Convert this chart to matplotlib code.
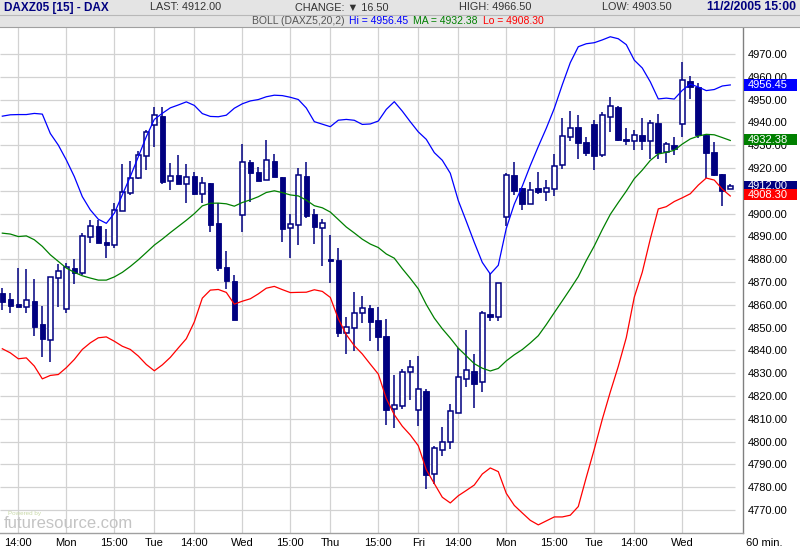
import numpy as np
import matplotlib
matplotlib.use('Agg')
import matplotlib.pyplot as plt
from matplotlib.patches import Rectangle

plt.rcParams['font.family'] = ['Liberation Sans', 'DejaVu Sans']

# ---------------- data (hourly candles, DAX futures) ----------------
opens = [4865.0, 4862.6, 4860.4, 4858.8, 4861.7, 4851.5, 4844.6, 4871.6, 4858.0, 4876.0,
         4874.1, 4889.6, 4894.5, 4887.4, 4886.2, 4901.1, 4908.8, 4915.4, 4925.2, 4938.8,
         4942.7, 4914.3, 4916.8, 4912.8, 4916.3, 4908.6, 4913.3, 4895.8, 4876.5, 4870.4,
         4899.3, 4922.6, 4918.2, 4914.6, 4923.0, 4916.0, 4893.6, 4894.8, 4916.5, 4899.9,
         4893.6, 4880.0, 4879.7, 4847.6, 4849.8, 4856.4, 4858.5, 4853.4, 4846.4, 4814.3,
         4815.5, 4830.5, 4813.7, 4822.3, 4785.8, 4796.5, 4800.0, 4812.6, 4827.5, 4831.0,
         4826.2, 4856.0, 4854.7, 4898.5, 4916.9, 4911.2, 4904.2, 4911.2, 4909.3, 4910.7,
         4921.2, 4933.6, 4937.9, 4931.5, 4939.2, 4925.5, 4942.3, 4946.8, 4932.8, 4931.6,
         4934.5, 4931.6, 4939.6, 4926.8, 4930.1, 4939.2, 4958.2, 4955.7, 4934.5, 4926.9,
         4917.4, 4910.7]
highs = [4867.2, 4865.0, 4876.0, 4875.7, 4871.3, 4859.5, 4872.0, 4877.9, 4878.5, 4880.1,
         4891.3, 4897.2, 4897.2, 4893.2, 4904.5, 4921.7, 4923.1, 4927.5, 4936.6, 4946.5,
         4946.5, 4922.0, 4925.5, 4921.7, 4918.2, 4916.2, 4913.3, 4904.5, 4883.7, 4873.0,
         4930.5, 4923.5, 4920.2, 4932.2, 4926.1, 4916.0, 4899.7, 4920.0, 4922.6, 4902.0,
         4897.5, 4890.7, 4885.1, 4854.6, 4865.4, 4864.0, 4860.0, 4859.0, 4853.7, 4829.3,
         4831.8, 4835.9, 4837.7, 4823.2, 4798.2, 4806.4, 4816.3, 4841.1, 4849.1, 4838.6,
         4857.2, 4873.9, 4869.6, 4917.7, 4922.6, 4911.2, 4913.8, 4918.2, 4914.8, 4926.2,
         4942.1, 4945.0, 4943.3, 4933.4, 4941.1, 4944.7, 4951.3, 4947.2, 4937.7, 4936.7,
         4941.8, 4941.1, 4943.7, 4931.3, 4933.5, 4966.5, 4960.4, 4957.2, 4934.5, 4931.3,
         4917.4, 4913.1]
lows = [4857.7, 4856.3, 4858.8, 4856.3, 4846.4, 4837.3, 4834.7, 4859.2, 4856.3, 4869.1,
        4873.1, 4886.9, 4886.9, 4880.4, 4885.0, 4901.1, 4908.1, 4915.0, 4919.1, 4929.3,
        4913.0, 4910.1, 4912.8, 4904.8, 4908.0, 4904.8, 4892.1, 4874.6, 4866.9, 4853.2,
        4892.1, 4905.2, 4914.4, 4914.6, 4916.2, 4887.6, 4880.5, 4886.1, 4898.2, 4886.6,
        4876.8, 4869.5, 4845.7, 4838.4, 4839.6, 4852.0, 4844.2, 4839.9, 4807.2, 4806.0,
        4814.3, 4818.1, 4806.7, 4779.0, 4781.2, 4793.6, 4796.9, 4812.6, 4823.9, 4814.8,
        4821.7, 4852.8, 4852.8, 4894.4, 4908.0, 4901.7, 4904.2, 4908.5, 4905.3, 4907.5,
        4919.5, 4932.0, 4923.9, 4925.3, 4919.2, 4925.0, 4935.7, 4932.0, 4930.1, 4927.7,
        4927.7, 4924.0, 4923.9, 4922.1, 4925.5, 4933.4, 4950.1, 4933.1, 4915.5, 4916.3,
        4903.5, 4910.7]
closes = [4861.4, 4859.6, 4858.8, 4862.1, 4850.4, 4844.9, 4872.0, 4874.7, 4876.4, 4874.1,
          4890.1, 4894.7, 4886.9, 4886.1, 4901.4, 4909.3, 4915.8, 4925.5, 4935.8, 4943.1,
          4914.0, 4916.5, 4912.8, 4916.2, 4908.5, 4913.3, 4894.8, 4876.1, 4870.3, 4853.2,
          4922.4, 4917.9, 4914.4, 4923.3, 4916.2, 4893.4, 4895.5, 4916.7, 4899.1, 4894.0,
          4895.8, 4879.1, 4847.4, 4850.2, 4856.4, 4858.5, 4852.3, 4845.7, 4813.7, 4816.2,
          4830.5, 4832.7, 4823.1, 4785.3, 4797.2, 4799.9, 4813.6, 4828.4, 4831.5, 4825.3,
          4856.4, 4854.7, 4869.6, 4916.9, 4909.7, 4904.2, 4910.3, 4909.3, 4911.2, 4920.9,
          4933.9, 4937.4, 4930.9, 4926.5, 4925.2, 4943.1, 4947.1, 4932.3, 4931.6, 4934.5,
          4931.6, 4939.6, 4926.5, 4930.4, 4928.2, 4958.6, 4955.4, 4934.5, 4926.5, 4916.7,
          4909.7, 4912.0]

# Bollinger values for the first bars (window reaches before the visible data)
pre_upper = [4942.7, 4943.3, 4943.4, 4943.4, 4943.9, 4943.6, 4935.1, 4930.0, 4923.5, 4916.2,
             4907.4, 4901.6, 4897.5, 4895.7, 4900.1, 4908.2, 4916.2, 4924.9, 4933.7]
pre_ma = [4891.4, 4891.0, 4889.9, 4890.2, 4888.5, 4885.6, 4881.9, 4879.0, 4876.1, 4874.2,
          4872.7, 4871.7, 4870.8, 4870.8, 4872.2, 4874.2, 4876.8, 4879.7, 4882.9]
pre_lower = [4840.7, 4838.9, 4836.3, 4836.7, 4833.1, 4827.5, 4829.0, 4829.4, 4832.4, 4836.0,
             4840.4, 4843.3, 4845.5, 4845.9, 4844.0, 4841.8, 4840.4, 4837.5, 4833.8]

hour_ticks = [2, 8, 14, 19, 24, 30, 36, 41, 47, 52, 57, 63, 69, 74, 79, 85]
hour_labels = ['14:00', 'Mon', '15:00', 'Tue', '14:00', 'Wed', '15:00', 'Thu',
               '15:00', 'Fri', '14:00', 'Mon', '15:00', 'Tue', '14:00', 'Wed']
price_ticks = list(range(4770, 4971, 10))

last_val = 4912.00
boll_hi, boll_ma, boll_lo = 4956.45, 4932.38, 4908.30

# ---------------- figure ----------------
W, H = 800, 550
fig = plt.figure(figsize=(W / 100, H / 100), dpi=100)
fig.patch.set_facecolor('white')

def fx(px):
    return px / W

def fy(py):
    return 1 - py / H

NAVY = '#000080'
GRID = '#d2d2d2'

ax = fig.add_axes([0, fy(533), 743 / W, (533 - 27) / H])
ax.set_xlim(-0.29, 92.59)
ax.set_ylim(4759.9, 4981.8)
ax.set_facecolor('white')

# grid
xr = 91.6
ax.hlines(price_ticks, -0.29, xr, color=GRID, lw=0.9, zorder=1)
ax.vlines(hour_ticks, 4759.9, 4981.8, color=GRID, lw=0.9, zorder=1)

o = np.array(opens)
h = np.array(highs)
l = np.array(lows)
c = np.array(closes)
n = len(c)
x = np.arange(n)

# Bollinger bands (20, 2)
ma = np.empty(n)
upb = np.empty(n)
lob = np.empty(n)
k = len(pre_ma)
ma[:k] = pre_ma
upb[:k] = pre_upper
lob[:k] = pre_lower
for i in range(k, n):
    w = c[i - 19:i + 1]
    m = w.mean()
    s = w.std()
    ma[i] = m
    upb[i] = m + 2 * s
    lob[i] = m - 2 * s

# candles
ax.vlines(x, l, h, color=NAVY, lw=1.1, zorder=2)
bull = c >= o
bot = np.minimum(o, c)
hgt = np.maximum(np.abs(c - o), 0.5)
ax.bar(x[~bull], hgt[~bull], 0.7, bot[~bull], color=NAVY, edgecolor=NAVY, lw=0.6, zorder=3)
ax.bar(x[bull], hgt[bull], 0.62, bot[bull], color='white', edgecolor=NAVY, lw=1.1, zorder=3)

ax.plot(x, upb, color='#0000ff', lw=0.9, zorder=4)
ax.plot(x, ma, color='#008000', lw=0.9, zorder=4)
ax.plot(x, lob, color='#ff0000', lw=0.9, zorder=4)

# axes cosmetics
for side in ['top', 'left']:
    ax.spines[side].set_visible(False)
ax.spines['right'].set_color('#808080')
ax.spines['right'].set_linewidth(1.0)
ax.spines['bottom'].set_color('#a0a0a0')
ax.spines['bottom'].set_linewidth(1.0)

ax.yaxis.tick_right()
ax.set_yticks(price_ticks)
ax.set_yticklabels(['%.2f' % v for v in price_ticks])
ax.tick_params(axis='y', length=0, pad=3.5, labelsize=8, labelcolor='black')
ax.set_xticks(hour_ticks)
ax.set_xticklabels(hour_labels)
ax.tick_params(axis='x', length=0, pad=3.5, labelsize=8, labelcolor='black')

fig.text(fx(746), fy(543), '60 min.', fontsize=8, va='center', ha='left')

# price boxes on right scale
def price_y(p):
    return 54 + (4970 - p) * 2.28

for val, col in [(boll_hi, '#0000ff'), (boll_ma, '#008000'), (last_val, NAVY), (boll_lo, '#ff0000')]:
    yc = price_y(val)
    fig.patches.append(Rectangle((fx(744), fy(yc + 5.7)), 53 / W, 11.4 / H,
                                 transform=fig.transFigure, facecolor=col, edgecolor='none', zorder=5))
    fig.text(fx(748), fy(yc), '%.2f' % val, color='white', fontsize=8, va='center', ha='left', zorder=6)

# header
fig.patches.append(Rectangle((0, fy(27)), 1, 27 / H, transform=fig.transFigure,
                             facecolor='#e4e4e4', edgecolor='none', zorder=1))
fig.lines.append(plt.Line2D([0, 1], [fy(14.5), fy(14.5)], transform=fig.transFigure, color='#b8b8b8', lw=0.8))
fig.lines.append(plt.Line2D([0, 1], [fy(27), fy(27)], transform=fig.transFigure, color='#a0a0a0', lw=0.8))

fig.text(fx(4), fy(7.5), 'DAXZ05 [15] - DAX', fontsize=8.5, fontweight='bold', color=NAVY, va='center', zorder=6)
fig.text(fx(150), fy(7.5), 'LAST: 4912.00', fontsize=7.8, color='#333333', va='center', zorder=6)
fig.text(fx(295), fy(7.5), 'CHANGE: \u25bc 16.50', fontsize=7.8, color='#333333', va='center', zorder=6)
fig.text(fx(459), fy(7.5), 'HIGH: 4966.50', fontsize=7.8, color='#333333', va='center', zorder=6)
fig.text(fx(602), fy(7.5), 'LOW: 4903.50', fontsize=7.8, color='#333333', va='center', zorder=6)
fig.text(fx(796), fy(7.5), '11/2/2005 15:00', fontsize=8.8, fontweight='bold', color=NAVY,
         va='center', ha='right', zorder=6)

fig.text(fx(252), fy(21), 'BOLL (DAXZ5,20,2)', fontsize=7.5, color='#555555', va='center', zorder=6)
fig.text(fx(349), fy(21), 'Hi = %.2f' % boll_hi, fontsize=7.5, color='#0000ff', va='center', zorder=6)
fig.text(fx(413), fy(21), 'MA = %.2f' % boll_ma, fontsize=7.5, color='#008000', va='center', zorder=6)
fig.text(fx(483), fy(21), 'Lo = %.2f' % boll_lo, fontsize=7.5, color='#ff0000', va='center', zorder=6)

# watermark
fig.text(fx(8), fy(513), 'Powered by', fontsize=4.5, color='#c8d8a8', va='center', zorder=6)
fig.text(fx(4), fy(523), 'futuresource.com', fontsize=12, color='#c4c4c4', va='center', zorder=6)

fig.savefig('out.png', dpi=100)
